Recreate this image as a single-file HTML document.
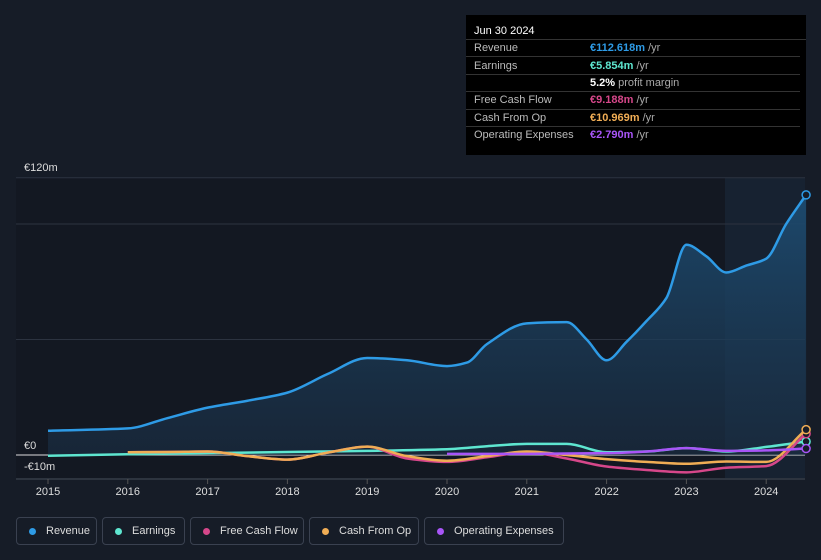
<!DOCTYPE html>
<html><head><meta charset="utf-8"><style>
body{margin:0;background:#161c27;width:821px;height:560px;overflow:hidden;font-family:"Liberation Sans",sans-serif;position:relative}
.tt{position:absolute;left:466px;top:15px;width:340px;height:140px;background:#000;color:#fff;font-size:11px}
.tt .h{padding:10px 8px 2px;font-size:11px;border-bottom:1px solid #333}
.tt .r{display:flex;height:16.4px;align-items:center;border-bottom:1px solid #333;margin:0 6px 0 0}
.tt .r span:first-child{width:116px;padding-left:8px;color:#bbb}
.lg{position:absolute;top:517px;height:28px;border:1px solid #3a4150;border-radius:4px;color:#ddd;font-size:11px;display:flex;align-items:center;box-sizing:border-box;padding-left:12px}
.lg i{width:7px;height:7px;border-radius:50%;display:inline-block;margin-right:10px}
</style></head><body>
<svg id="c" width="821" height="560" style="position:absolute;left:0;top:0"></svg>
<div class="tt">
<div class="h">Jun 30 2024</div>
<div class="r"><span>Revenue</span><span style="color:#2e9be6;font-weight:bold">€112.618m</span>&nbsp;<span style="color:#aaa">/yr</span></div>
<div class="r"><span>Earnings</span><span style="color:#5ee6d0;font-weight:bold">€5.854m</span>&nbsp;<span style="color:#aaa">/yr</span></div>
<div class="r"><span></span><b>5.2%</b>&nbsp;<span style="color:#aaa">profit margin</span></div>
<div class="r"><span>Free Cash Flow</span><span style="color:#d6478a;font-weight:bold">€9.188m</span>&nbsp;<span style="color:#aaa">/yr</span></div>
<div class="r"><span>Cash From Op</span><span style="color:#f0ad55;font-weight:bold">€10.969m</span>&nbsp;<span style="color:#aaa">/yr</span></div>
<div class="r" style="border:none"><span>Operating Expenses</span><span style="color:#a855f7;font-weight:bold">€2.790m</span>&nbsp;<span style="color:#aaa">/yr</span></div>
</div>
<div class="lg" style="left:16px;width:81px"><i style="background:#2e9be6"></i>Revenue</div>
<div class="lg" style="left:102px;width:83px"><i style="background:#5ee6d0"></i>Earnings</div>
<div class="lg" style="left:190px;width:114px"><i style="background:#d6478a"></i>Free Cash Flow</div>
<div class="lg" style="left:309px;width:110px"><i style="background:#f0ad55"></i>Cash From Op</div>
<div class="lg" style="left:424px;width:140px"><i style="background:#a855f7"></i>Operating Expenses</div>
<script>
const revT=[2015,2016,2016.5,2017,2017.5,2018,2018.5,2019,2019.5,2020,2020.25,2020.5,2021,2021.5,2021.75,2022,2022.25,2022.5,2022.75,2023,2023.25,2023.5,2023.75,2024,2024.25,2024.5];
const revV=[10.5,11.5,16,20.5,23.5,27,35,42,41,38.5,40,48,57,57.5,50,41,49,58,68,91,86,79,82,85,100,112.6];
const earnT=[2015,2016,2017,2018,2019,2020,2020.5,2021,2021.5,2022,2022.5,2023,2023.5,2024,2024.5];
const earnV=[-0.3,0.3,0.8,1.3,1.8,2.5,3.8,4.8,4.8,1.2,1.5,3.0,1.5,3.5,5.85];
const cfoT=[2016,2016.5,2017,2017.5,2018,2018.5,2019,2019.5,2020,2020.5,2021,2021.5,2022,2022.5,2023,2023.5,2024,2024.5];
const cfoV=[1.2,1.3,1.5,-0.5,-2,1,3.6,-0.5,-2.5,-0.5,1.5,0,-1.8,-3,-3.8,-2.8,-3,10.97];
const fcfV=[1.2,1.3,1.5,-0.5,-2,1,3.6,-1.5,-3,-1,1.2,-1.5,-5,-6.5,-7.5,-5.5,-4.8,9.19];
const opxT=[2020,2021,2022,2022.5,2023,2023.5,2024,2024.5];
const opxV=[0.5,0.5,0.8,1.5,3,1.8,2,2.79];
const yTicks=[120,0,-10];const yLab=["€120m","€0","-€10m"];
const gridV=[100,50];
const xTicks=[2015,2016,2017,2018,2019,2020,2021,2022,2023,2024];
const svg=document.getElementById('c');const NS='http://www.w3.org/2000/svg';
const X=t=>48+(t-2015)*79.8, Y=v=>455-v*2.31;
function el(n,a,p){const e=document.createElementNS(NS,n);for(const k in a)e.setAttribute(k,a[k]);(p||svg).appendChild(e);return e;}
function path(T,V){const p=T.map((t,i)=>[X(t),Y(V[i])]);const n=p.length;
 const s=[];for(let i=0;i<n-1;i++)s.push((p[i+1][1]-p[i][1])/(p[i+1][0]-p[i][0]));
 const m=[s[0]];for(let i=1;i<n-1;i++){m.push(s[i-1]*s[i]<=0?0:2/(1/s[i-1]+1/s[i]));}m.push(s[n-2]);
 let d='M'+p[0];for(let i=1;i<n;i++){const a=p[i-1],b=p[i],h=(b[0]-a[0])/3;d+=`C${a[0]+h},${a[1]+m[i-1]*h} ${b[0]-h},${b[1]-m[i]*h} ${b[0]},${b[1]}`;}return d;}
const defs=el('defs',{});const g=el('linearGradient',{id:'gr',x1:0,y1:0,x2:0,y2:1},defs);
el('stop',{offset:0,'stop-color':'#1d4d73','stop-opacity':0.9},g);el('stop',{offset:1,'stop-color':'#1a2f45','stop-opacity':0.6},g);
const bg=el('rect',{x:16,y:178,width:789,height:300,fill:'#131822'});
const hl=el('rect',{x:725,y:178,width:80,height:300,fill:'#1a2a3c',opacity:0.6});
gridV.forEach(v=>{const l=el('line',{x1:16,x2:805,y1:Y(v),y2:Y(v),stroke:'#2c3340'});});
const off=[7,6,8];
yTicks.forEach((v,i)=>{if(v!==-10){const l=el('line',{x1:16,x2:805,y1:Y(v),y2:Y(v),stroke:v==0?'#ddd':'#2c3340','stroke-width':1});}
const t=el('text',{x:24,y:Y(v)-off[i],fill:'#ddd','font-size':11});t.textContent=yLab[i];});
el('line',{x1:16,x2:805,y1:479,y2:479,stroke:'#444b57'});
xTicks.forEach(t=>{el('line',{x1:X(t),x2:X(t),y1:479,y2:484,stroke:'#555'});const tx=el('text',{x:X(t),y:495,fill:'#ddd','font-size':11,'text-anchor':'middle'});tx.textContent=t;});
const rd=path(revT,revV);
const ra=el('path',{d:rd+`L${X(2024.5)},${Y(0)}L${X(2015)},${Y(0)}Z`,fill:'url(#gr)'});
function line(T,V,c,n){const p=el('path',{d:path(T,V),fill:'none',stroke:c,'stroke-width':2.5});
const d=el('circle',{cx:X(T[T.length-1]),cy:Y(V[V.length-1]),r:4,fill:'#161c27',stroke:c,'stroke-width':1.5});}
line(earnT,earnV,'#5ee6d0','earnings-line');
line(cfoT,fcfV,'#d6478a','free-cash-flow-line');
line(cfoT,cfoV,'#f0ad55','cash-from-op-line');
line(opxT,opxV,'#a855f7','operating-expenses-line');
line(revT,revV,'#2e9be6','revenue-line');
</script>
</body></html>
